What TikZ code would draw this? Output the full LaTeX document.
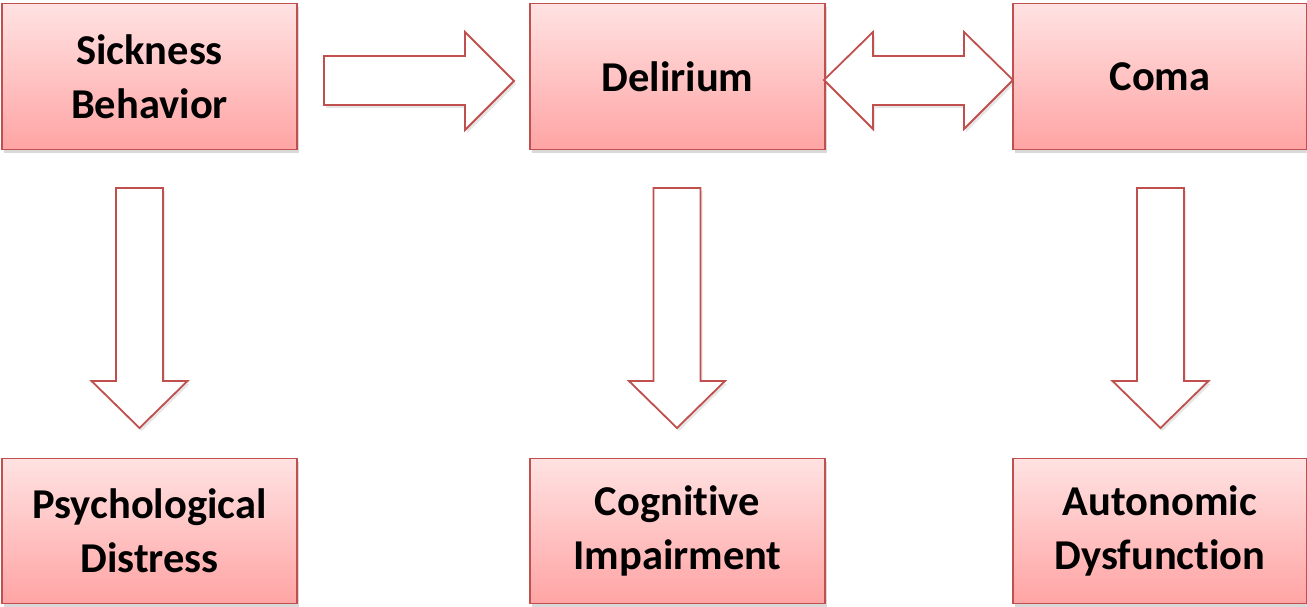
\documentclass[tikz,border=0pt]{standalone}
\usepackage{fontspec}
\setmainfont{Carlito}[Ligatures={NoCommon}]
\usetikzlibrary{shadows}
\definecolor{edgered}{RGB}{192,80,77}
\definecolor{topfill}{RGB}{255,226,226}
\definecolor{botfill}{RGB}{255,164,164}
\tikzset{
  box/.style={draw=edgered, line width=1.8pt, top color=topfill, bottom color=botfill,
    minimum width=295pt, minimum height=146pt, inner sep=0pt, align=center,
    font=\fontsize{42.5}{54}\selectfont\bfseries,
    drop shadow={shadow xshift=2pt, shadow yshift=-3pt, opacity=0.25, fill=black!60}},
  blockarrow/.style={draw=edgered, line width=1.8pt, fill=white, line join=miter,
    drop shadow={shadow xshift=2pt, shadow yshift=-3pt, opacity=0.2, fill=black!50}}
}
\begin{document}
\begin{tikzpicture}[x=1pt,y=-1pt]
\useasboundingbox (0,0) rectangle (1307,606);
\node[box] (sick) at (149.5,76.5) {Sickness\\Behavior};
\node[box] (del) at (677.5,76.5) {Delirium};
\node[box, minimum width=294pt] (coma) at (1160,76.5) {Coma};
\node[box, minimum height=145pt] (psy) at (149.5,531) {Psychological\\Distress};
\node[box, minimum height=145pt] (cog) at (677.5,531) {Cognitive\\Impairment};
\node[box, minimum width=294pt, minimum height=145pt] (aut) at (1160,531) {Autonomic\\Dysfunction};
% right arrow sick -> delirium
\draw[blockarrow] (324,56) -- (465,56) -- (465,32) -- (514,81) -- (465,130) -- (465,105) -- (324,105) -- cycle;
% double arrow delirium <-> coma
\draw[blockarrow] (824,80) -- (873,32) -- (873,56) -- (964,56) -- (964,32) -- (1013,80) -- (964,129) -- (964,105) -- (873,105) -- (873,129) -- cycle;
% down arrows
\foreach \cx/\nm in {139.5/a, 677/b, 1160.5/c}{
  \draw[blockarrow] (\cx-23.5,188) -- (\cx+23.5,188) -- (\cx+23.5,381) -- (\cx+48,381) -- (\cx,428) -- (\cx-48,381) -- (\cx-23.5,381) -- cycle;
}
\end{tikzpicture}
\end{document}
